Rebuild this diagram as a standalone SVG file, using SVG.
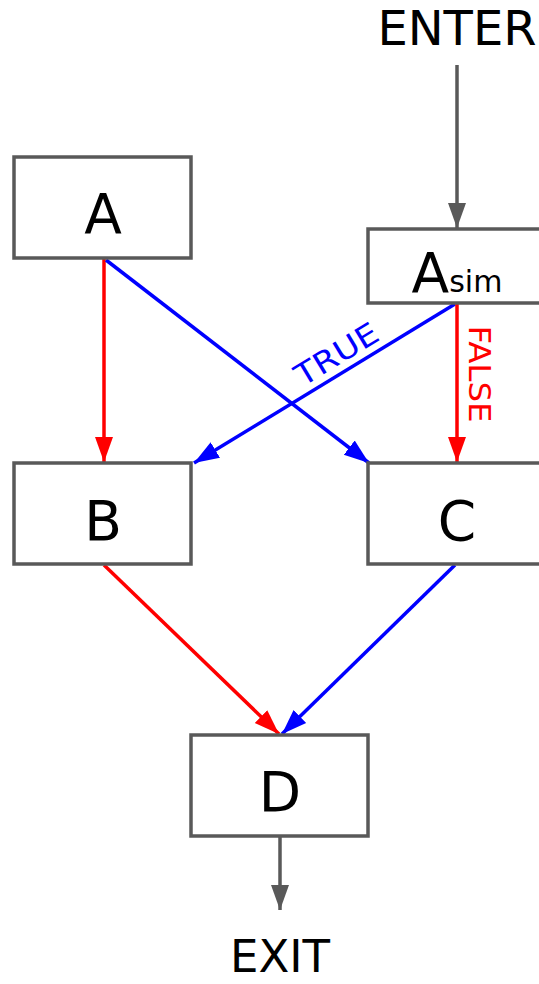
<svg xmlns="http://www.w3.org/2000/svg" width="539" height="984" viewBox="0 0 539 984">
<style>
.box{fill:#fff;stroke:#595959;stroke-width:3.5}
.lbl{font-family:"DejaVu Sans",sans-serif;fill:#000;text-anchor:middle}
.big{font-size:55px}
.edge{fill:none;stroke-width:3.5}
.r{stroke:#ff0000}.b{stroke:#0000ff}.g{stroke:#595959}
</style>
<defs>
<marker id="mr" markerUnits="userSpaceOnUse" markerWidth="26" markerHeight="20" refX="25" refY="10" orient="auto"><path d="M0,1 L25,10 L0,19 Z" fill="#ff0000"/></marker>
<marker id="mb" markerUnits="userSpaceOnUse" markerWidth="26" markerHeight="20" refX="25" refY="10" orient="auto"><path d="M0,1 L25,10 L0,19 Z" fill="#0000ff"/></marker>
<marker id="mg" markerUnits="userSpaceOnUse" markerWidth="26" markerHeight="20" refX="25" refY="10" orient="auto"><path d="M0,1 L25,10 L0,19 Z" fill="#595959"/></marker>
</defs>
<g id="edges">
<line class="edge g" x1="457" y1="65" x2="457" y2="228" marker-end="url(#mg)"/>
<line class="edge r" x1="104" y1="259" x2="104" y2="462" marker-end="url(#mr)"/>
<line class="edge b" x1="106" y1="260" x2="369" y2="463" marker-end="url(#mb)"/>
<line class="edge b" x1="455" y1="304" x2="194" y2="463" marker-end="url(#mb)"/>
<line class="edge r" x1="457" y1="304" x2="457" y2="462" marker-end="url(#mr)"/>
<line class="edge r" x1="104" y1="565" x2="279" y2="734" marker-end="url(#mr)"/>
<line class="edge b" x1="455" y1="565" x2="282" y2="734" marker-end="url(#mb)"/>
<line class="edge g" x1="280" y1="837" x2="280" y2="910" marker-end="url(#mg)"/>
<text x="0" y="0" transform="translate(342,363) rotate(-31.3)" font-family="DejaVu Sans,sans-serif" font-size="30" fill="#0000ff" text-anchor="middle" textLength="92" lengthAdjust="spacingAndGlyphs">TRUE</text>
<text x="0" y="0" transform="translate(469,374) rotate(90)" font-family="DejaVu Sans,sans-serif" font-size="30" fill="#ff0000" text-anchor="middle" textLength="97" lengthAdjust="spacingAndGlyphs">FALSE</text>
</g>
<g id="enter"><text class="lbl" x="457" y="45" font-size="48">ENTER</text></g>
<g id="nodeA"><rect class="box" x="14" y="157" width="177" height="101"/><text class="lbl big" x="103" y="233">A</text></g>
<g id="nodeAsim"><rect class="box" x="368" y="229" width="180" height="74"/><text class="lbl" x="457" y="292" font-size="55" text-anchor="middle"><tspan>A</tspan><tspan font-size="30">sim</tspan></text></g>
<g id="nodeB"><rect class="box" x="14" y="463" width="177" height="101"/><text class="lbl big" x="103" y="540">B</text></g>
<g id="nodeC"><rect class="box" x="368" y="463" width="180" height="101"/><text class="lbl big" x="457" y="540">C</text></g>
<g id="nodeD"><rect class="box" x="191" y="735" width="177" height="101"/><text class="lbl big" x="280" y="811">D</text></g>
<g id="exit"><text class="lbl" x="280" y="972" font-size="45">EXIT</text></g>
</svg>
